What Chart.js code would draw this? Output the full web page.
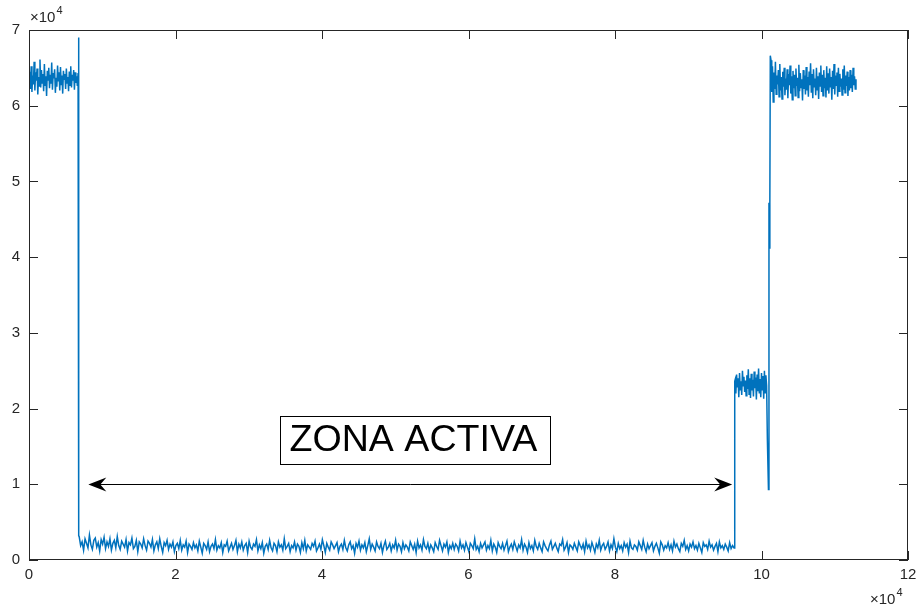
<!DOCTYPE html>
<html>
<head>
<meta charset="utf-8">
<script src="https://cdn.jsdelivr.net/npm/chart.js@4.4.1/dist/chart.umd.min.js"></script>
<style>
  html, body { margin: 0; padding: 0; background: #fff; }
  #wrap { width: 916px; height: 607px; position: relative; }
</style>
</head>
<body>
<div id="wrap"><canvas id="chart-signal"></canvas></div>
<script>
// both axes are in units of 10^4

// idle level before the active zone (x from 0, step 0.01)
const idleStartX = 0;
const idleStep = 0.01;
const idleValues = [
  6.31,6.45,6.22,6.52,6.18,6.40,6.28,6.58,6.20,6.44,6.33,6.49,6.15,6.38,6.26,6.61,
  6.24,6.47,6.30,6.42,6.19,6.55,6.27,6.39,6.13,6.46,6.34,6.50,6.23,6.41,6.29,6.57,
  6.21,6.43,6.36,6.48,6.17,6.37,6.25,6.53,6.32,6.44,6.20,6.51,6.28,6.40,6.16,6.46,
  6.35,6.42,6.22,6.49,6.30,6.38,6.19,6.45,6.27,6.52,6.24,6.41,6.33,6.47,6.21,6.44,
  6.30,6.39,6.26,6.43
];

// active zone (x from 0.685, step 0.02)
const activeStartX = 0.685;
const activeStep = 0.02;
const activeValues = [
  0.31,0.19,0.24,0.13,0.28,0.22,0.16,0.33,0.20,0.14,0.26,0.29,0.17,0.23,0.12,0.27,
  0.21,0.30,0.15,0.24,0.18,0.28,0.13,0.22,0.26,0.16,0.31,0.19,0.14,0.25,0.21,0.17,
  0.27,0.12,0.23,0.20,0.29,0.15,0.18,0.26,0.11,0.24,0.21,0.16,0.28,0.19,0.13,0.25,
  0.22,0.17,0.27,0.12,0.20,0.24,0.15,0.28,0.18,0.10,0.23,0.19,0.26,0.14,0.21,0.17,
  0.24,0.11,0.19,0.22,0.15,0.26,0.13,0.20,0.17,0.25,0.10,0.21,0.18,0.14,0.23,0.16,
  0.20,0.12,0.25,0.17,0.09,0.22,0.19,0.14,0.24,0.11,0.18,0.21,0.15,0.27,0.13,0.19,
  0.16,0.23,0.10,0.20,0.18,0.25,0.12,0.17,0.22,0.14,0.19,0.26,0.11,0.21,0.16,0.24,
  0.13,0.19,0.22,0.10,0.25,0.17,0.14,0.21,0.18,0.27,0.12,0.20,0.15,0.23,0.09,0.18,
  0.21,0.14,0.26,0.16,0.12,0.22,0.19,0.11,0.24,0.17,0.20,0.13,0.28,0.15,0.18,0.22,
  0.11,0.19,0.16,0.24,0.13,0.21,0.18,0.10,0.23,0.15,0.26,0.12,0.20,0.17,0.14,0.22,
  0.18,0.25,0.12,0.16,0.21,0.14,0.27,0.19,0.10,0.22,0.17,0.13,0.24,0.20,0.15,0.19,
  0.23,0.11,0.18,0.21,0.14,0.26,0.16,0.12,0.20,0.24,0.15,0.19,0.09,0.22,0.17,0.25,
  0.13,0.20,0.16,0.23,0.11,0.19,0.28,0.14,0.21,0.17,0.12,0.24,0.18,0.15,0.22,0.10,
  0.19,0.25,0.14,0.17,0.22,0.12,0.20,0.16,0.26,0.13,0.21,0.18,0.11,0.23,0.15,0.20,
  0.17,0.12,0.24,0.19,0.14,0.21,0.10,0.25,0.16,0.20,0.13,0.27,0.18,0.15,0.22,0.12,
  0.20,0.16,0.11,0.23,0.18,0.14,0.26,0.19,0.12,0.21,0.17,0.24,0.10,0.19,0.15,0.22,
  0.14,0.21,0.18,0.12,0.25,0.16,0.20,0.13,0.23,0.17,0.11,0.22,0.19,0.15,0.28,0.14,
  0.18,0.11,0.22,0.16,0.20,0.24,0.13,0.19,0.15,0.26,0.12,0.21,0.17,0.10,0.23,0.18,
  0.15,0.22,0.13,0.19,0.25,0.11,0.17,0.21,0.14,0.24,0.18,0.12,0.20,0.16,0.27,0.13,
  0.21,0.17,0.10,0.23,0.15,0.19,0.12,0.26,0.18,0.14,0.22,0.16,0.11,0.24,0.19,0.15,
  0.12,0.20,0.25,0.14,0.18,0.22,0.16,0.11,0.21,0.19,0.27,0.13,0.17,0.23,0.10,0.20,
  0.18,0.14,0.22,0.17,0.12,0.24,0.19,0.15,0.21,0.11,0.25,0.16,0.20,0.13,0.23,0.17,
  0.10,0.21,0.16,0.26,0.13,0.19,0.22,0.14,0.18,0.24,0.12,0.20,0.15,0.28,0.17,0.11,
  0.22,0.15,0.19,0.12,0.23,0.17,0.21,0.10,0.25,0.16,0.14,0.20,0.18,0.13,0.24,0.19,
  0.14,0.26,0.17,0.11,0.21,0.15,0.19,0.23,0.12,0.18,0.22,0.16,0.09,0.24,0.20,0.13,
  0.19,0.16,0.23,0.14,0.20,0.12,0.25,0.17,0.21,0.15,0.11,0.22,0.18,0.26,0.14,0.19,
  0.12,0.21,0.17,0.24,0.15,0.19,0.13,0.22,0.16,0.10,0.23,0.18,0.20,0.14,0.25,0.17,
  0.20,0.13,0.18,0.22,0.11,0.24,0.16,0.19,0.14,0.21,0.17,0.12,0.23,0.15,0.19,0.16
];

// intermediate plateau (x from 9.64, step 0.01)
const midStartX = 9.64;
const midStep = 0.01;
const midValues = [
  2.38,2.20,2.45,2.28,2.40,2.15,2.47,2.25,2.36,2.18,2.50,2.30,2.42,2.22,2.37,2.17,
  2.44,2.26,2.52,2.19,2.40,2.14,2.46,2.24,2.38,2.16,2.49,2.27,2.41,2.12,2.45,2.23,
  2.53,2.20,2.39,2.15,2.47,2.25,2.43,2.13,2.50,2.21,2.44,2.30
];

// back to idle (x from 10.13, step 0.01)
const endStartX = 10.13;
const endStep = 0.01;
const endValues = [
  6.60,6.18,6.52,6.05,6.44,6.22,6.58,6.15,6.40,6.28,6.47,6.12,6.55,6.20,6.38,6.09,
  6.45,6.25,6.50,6.14,6.36,6.21,6.48,6.10,6.42,6.27,6.53,6.16,6.39,6.08,6.46,6.23,
  6.41,6.13,6.49,6.26,6.37,6.11,6.54,6.19,6.43,6.24,6.35,6.07,6.47,6.22,6.40,6.15,
  6.51,6.20,6.38,6.12,6.45,6.27,6.56,6.17,6.42,6.10,6.48,6.25,6.36,6.14,6.50,6.21,
  6.39,6.09,6.44,6.26,6.53,6.18,6.41,6.13,6.47,6.23,6.37,6.11,6.52,6.20,6.43,6.16,
  6.49,6.24,6.38,6.08,6.46,6.22,6.55,6.15,6.40,6.27,6.44,6.12,6.50,6.19,6.42,6.25,
  6.36,6.14,6.48,6.21,6.53,6.17,6.40,6.26,6.45,6.13,6.38,6.20,6.47,6.23,6.41,6.18,
  6.50,6.27,6.39,6.22,6.35
];

// sharp edges between the levels
const edgeX = [0.675, 0.682, 9.632, 9.637, 10.08, 10.095, 10.102, 10.108, 10.114, 10.12];
const edgeY = [6.90, 0.32, 1.90, 2.36, 1.60, 0.93, 4.72, 4.12, 4.70, 6.66];

const xTicks = [0, 2, 4, 6, 8, 10, 12];
const yTicks = [0, 1, 2, 3, 4, 5, 6, 7];

// annotation
const zoneLabel = "ZONA ACTIVA";
const zoneArrowFrom = 0.81;
const zoneArrowTo = 9.60;
const zoneArrowY = 1.0;
const zoneLabelX = 5.27;
const zoneLabelY = 1.585;

const AXIS_COLOR = "#262626";
const FONT = "'Liberation Sans', Arial, Helvetica, sans-serif";

function toPoints(startX, step, values) {
  return values.map((v, i) => ({ x: startX + i * step, y: v }));
}

const points = [
  ...toPoints(idleStartX, idleStep, idleValues),
  ...toPoints(activeStartX, activeStep, activeValues),
  ...toPoints(midStartX, midStep, midValues),
  ...toPoints(endStartX, endStep, endValues),
  ...edgeX.map((x, i) => ({ x, y: edgeY[i] })),
].sort((a, b) => a.x - b.x);

// caja con ticks hacia dentro en los cuatro lados
const boxPlugin = {
  id: "boxAxes",
  afterDatasetsDraw(chart) {
    const { ctx, chartArea: a, scales } = chart;
    const tl = 9;
    ctx.save();
    ctx.strokeStyle = AXIS_COLOR;
    ctx.lineWidth = 1;
    ctx.strokeRect(a.left + 0.5, a.top + 0.5, a.right - a.left - 1, a.bottom - a.top - 1);
    ctx.beginPath();
    xTicks.forEach((t) => {
      const px = Math.round(scales.x.getPixelForValue(t)) + 0.5;
      ctx.moveTo(px, a.bottom); ctx.lineTo(px, a.bottom - tl);
      ctx.moveTo(px, a.top); ctx.lineTo(px, a.top + tl);
    });
    yTicks.forEach((t) => {
      const py = Math.round(scales.y.getPixelForValue(t)) + 0.5;
      ctx.moveTo(a.left, py); ctx.lineTo(a.left + tl, py);
      ctx.moveTo(a.right, py); ctx.lineTo(a.right - tl, py);
    });
    ctx.stroke();

    // exponentes x10^4
    ctx.fillStyle = AXIS_COLOR;
    ctx.textBaseline = "alphabetic";
    ctx.textAlign = "left";
    ctx.font = "15px " + FONT;
    ctx.fillText("\u00d710", a.left + 1, a.top - 8);
    let w = ctx.measureText("\u00d710").width;
    ctx.font = "11px " + FONT;
    ctx.fillText("4", a.left + 1 + w + 1, a.top - 16);

    ctx.font = "15px " + FONT;
    const base = chart.height - 3;
    ctx.fillText("\u00d710", a.right - 38, base);
    w = ctx.measureText("\u00d710").width;
    ctx.font = "11px " + FONT;
    ctx.fillText("4", a.right - 38 + w + 1, base - 8);
    ctx.restore();
  },
};

function drawHead(ctx, tipX, y, dir) {
  const len = 18, half = 7, notch = 12;
  ctx.beginPath();
  ctx.moveTo(tipX, y);
  ctx.lineTo(tipX + dir * len, y - half);
  ctx.lineTo(tipX + dir * notch, y);
  ctx.lineTo(tipX + dir * len, y + half);
  ctx.closePath();
  ctx.fill();
}

// flecha doble y recuadro de texto
const zonePlugin = {
  id: "zoneNote",
  afterDatasetsDraw(chart) {
    const { ctx, scales } = chart;
    const x1 = scales.x.getPixelForValue(zoneArrowFrom);
    const x2 = scales.x.getPixelForValue(zoneArrowTo);
    const y = Math.round(scales.y.getPixelForValue(zoneArrowY)) + 0.5;
    ctx.save();
    ctx.strokeStyle = "#000";
    ctx.fillStyle = "#000";
    ctx.lineWidth = 1;
    ctx.beginPath();
    ctx.moveTo(x1 + 10, y);
    ctx.lineTo(x2 - 10, y);
    ctx.stroke();
    drawHead(ctx, x1, y, 1);
    drawHead(ctx, x2, y, -1);

    ctx.font = "37.6px " + FONT;
    const tw = ctx.measureText(zoneLabel).width;
    const cx = scales.x.getPixelForValue(zoneLabelX);
    const cy = scales.y.getPixelForValue(zoneLabelY);
    const bw = Math.round(tw + 22), bh = 48;
    const bx = Math.round(cx - bw / 2) + 0.5, by = Math.round(cy - bh / 2) + 0.5;
    ctx.fillStyle = "#fff";
    ctx.fillRect(bx, by, bw, bh);
    ctx.strokeStyle = "#000";
    ctx.strokeRect(bx, by, bw, bh);
    ctx.fillStyle = "#000";
    ctx.textAlign = "left";
    ctx.textBaseline = "middle";
    ctx.fillText(zoneLabel, bx + 9, cy + 1);
    ctx.restore();
  },
};

const tickFont = { family: FONT, size: 15 };

new Chart(document.getElementById("chart-signal"), {
  type: "line",
  data: {
    datasets: [
      {
        data: points,
        borderColor: "#0072BD",
        borderWidth: 1.5,
        pointRadius: 0,
        tension: 0,
        fill: false,
      },
    ],
  },
  options: {
    responsive: true,
    maintainAspectRatio: false,
    animation: false,
    events: [],
    layout: { padding: { left: 0, top: 30, right: 8, bottom: 0 } },
    plugins: { legend: { display: false }, tooltip: { enabled: false } },
    scales: {
      x: {
        type: "linear",
        min: 0,
        max: 12,
        afterBuildTicks: (scale) => { scale.ticks = xTicks.map((v) => ({ value: v })); },
        afterFit: (scale) => {
          scale.height = 47;
          scale.paddingLeft = 0;
          scale.paddingRight = 0;
        },
        grid: { display: false, drawTicks: false },
        border: { display: false },
        ticks: { color: AXIS_COLOR, font: tickFont, padding: 6, maxRotation: 0 },
      },
      y: {
        type: "linear",
        min: 0,
        max: 7,
        afterBuildTicks: (scale) => { scale.ticks = yTicks.map((v) => ({ value: v })); },
        afterFit: (scale) => {
          scale.width = 29;
          scale.paddingTop = 0;
          scale.paddingBottom = 0;
        },
        grid: { display: false, drawTicks: false },
        border: { display: false },
        ticks: { color: AXIS_COLOR, font: tickFont, padding: 9 },
      },
    },
  },
  plugins: [boxPlugin, zonePlugin],
});
</script>
</body>
</html>
